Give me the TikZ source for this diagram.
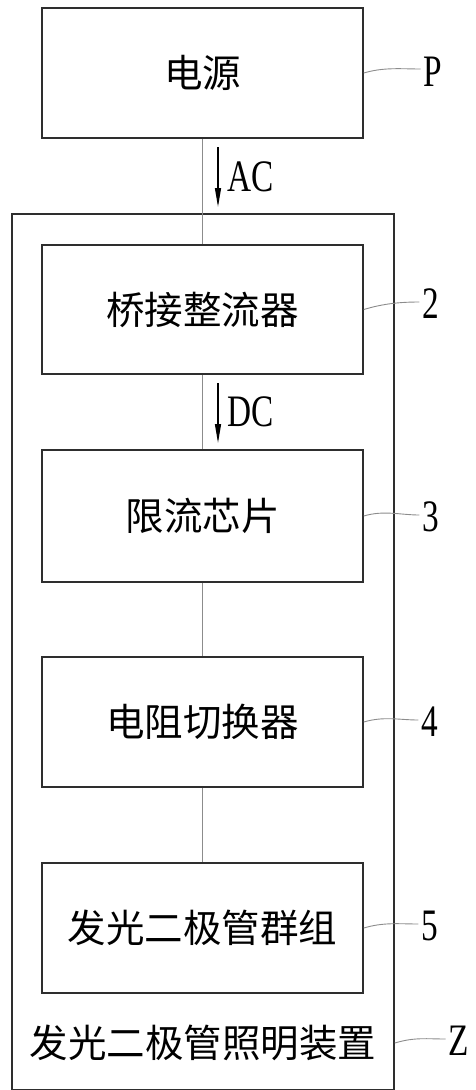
\documentclass[tikz,border=0pt]{standalone}
\usepackage{fontspec}
\usepackage{graphicx}
\setmainfont{Liberation Serif}
\newfontfamily\cjk{Noto Sans CJK SC}
\usetikzlibrary{calc,arrows.meta}
\newcommand\latlab[1]{\scalebox{0.74}[1]{\fontsize{45}{50}\selectfont #1}}
\begin{document}
\begin{tikzpicture}[x=1pt,y=-1pt,
  blockbox/.style={draw=black!82,line width=1.6pt,minimum width=321pt,inner sep=0pt,font=\cjk\fontsize{38.5}{42}\selectfont},
  outerbox/.style={draw=black!82,line width=1.6pt,minimum width=382pt,minimum height=876pt,inner sep=0pt},
  conn/.style={draw=black!45,line width=0.9pt},
  flow/.style={draw=black,line width=1.3pt,-{Triangle[length=19pt,width=6pt]}},
  leader/.style={draw=black!45,line width=0.9pt},
  reflab/.style={inner sep=0pt},
  cjktext/.style={inner sep=0pt,font=\cjk\fontsize{38.5}{42}\selectfont}]
\useasboundingbox (0,0) rectangle (475,1090);
% outer device box
\node[outerbox] (Z) at (203,652) {};
% blocks
\node[blockbox,minimum height=130pt] (P) at (202.5,73) {电源};
\node[blockbox,minimum height=129pt] (b2) at (202.5,309.5) {桥接整流器};
\node[blockbox,minimum height=132pt] (b3) at (202.5,516) {限流芯片};
\node[blockbox,minimum height=130pt] (b4) at (202.5,722) {电阻切换器};
\node[blockbox,minimum height=130pt] (b5) at (202.5,928) {发光二极管群组};
\node[cjktext] (zt) at (203,1043) {发光二极管照明装置};
% connectors
\draw[conn] (P.south) -- (b2.north);
\draw[conn] (b2.south) -- (b3.north);
\draw[conn] (b3.south) -- (b4.north);
\draw[conn] (b4.south) -- (b5.north);
% flow arrows
\coordinate (acA) at (218,147);
\coordinate (acB) at (218,207);
\draw[flow] (acA) -- (acB);
\node[reflab] (ac) at (251,177) {\latlab{AC}};
\coordinate (dcA) at (218,383);
\coordinate (dcB) at (218,443);
\draw[flow] (dcA) -- (dcB);
\node[reflab] (dc) at (251,412) {\latlab{DC}};
% reference labels
\node[reflab] (lP) at (433,72) {\latlab{P}};
\node[reflab] (l2) at (431,304) {\latlab{2}};
\node[reflab] (l3) at (431,517) {\latlab{3}};
\node[reflab] (l4) at (430,722) {\latlab{4}};
\node[reflab] (l5) at (430,926) {\latlab{5}};
\node[reflab] (lZ) at (459,1041) {\latlab{Z}};
% leaders
\draw[leader] (P.east) .. controls ($(P.east)+(20,-6)$) and ($(lP.west)+(-22,-3)$) .. ($(lP.west)+(-3,-3)$);
\draw[leader] (b2.east) .. controls ($(b2.east)+(20,-6)$) and ($(l2.west)+(-22,-2)$) .. ($(l2.west)+(-3,-2)$);
\draw[leader] (b3.east) .. controls ($(b3.east)+(20,-6)$) and ($(l3.west)+(-22,-2)$) .. ($(l3.west)+(-3,-2)$);
\draw[leader] (b4.east) .. controls ($(b4.east)+(20,-6)$) and ($(l4.west)+(-22,-2)$) .. ($(l4.west)+(-3,-2)$);
\draw[leader] (b5.east) .. controls ($(b5.east)+(20,-6)$) and ($(l5.west)+(-22,-2)$) .. ($(l5.west)+(-3,-2)$);
\draw[leader] (Z.east |- zt) .. controls ($(Z.east |- zt)+(20,-6)$) and ($(lZ.west)+(-22,-2)$) .. ($(lZ.west)+(-3,-2)$);
\end{tikzpicture}
\end{document}
